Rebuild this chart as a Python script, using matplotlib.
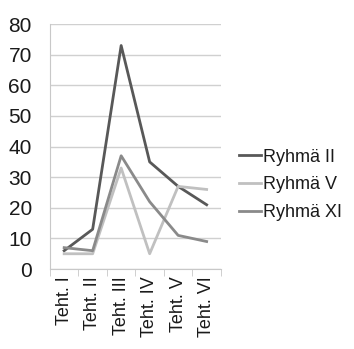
import matplotlib.pyplot as plt
import numpy as np

plt.rcParams["font.family"] = ["Liberation Sans", "DejaVu Sans"]

tasks = ["Teht. I", "Teht. II", "Teht. III", "Teht. IV", "Teht. V", "Teht. VI"]
ryhma_ii = [6, 13, 73, 35, 27, 21]
ryhma_v = [5, 5, 33, 5, 27, 26]
ryhma_xi = [7, 6, 37, 22, 11, 9]

fig = plt.figure(figsize=(3.54, 3.49), dpi=100)
ax = fig.add_axes([0.141, 0.229, 0.483, 0.702])

x = np.arange(len(tasks))
ax.plot(x, ryhma_ii, color="#585858", lw=2, label="Ryhmä II")
ax.plot(x, ryhma_v, color="#c0c0c0", lw=2, label="Ryhmä V")
ax.plot(x, ryhma_xi, color="#8a8a8a", lw=2, label="Ryhmä XI")

ax.set_xlim(-0.5, len(tasks) - 0.5)
ax.set_ylim(0, 80)
ax.set_yticks(range(0, 81, 10))
ax.set_xticks(x)
ax.set_xticklabels(tasks, rotation=90, fontsize=13, color="#1a1a1a")
ax.set_xticks(np.arange(-0.5, len(tasks), 1), minor=True)
ax.tick_params(axis="x", which="major", length=0, pad=5)
ax.tick_params(axis="x", which="minor", length=5, color="#c8c8c8")
ax.tick_params(axis="y", length=0, labelsize=15, labelcolor="#1a1a1a", pad=13)

ax.grid(axis="y", color="#d0d0d0", lw=1)
ax.set_axisbelow(True)
for side in ["top", "right"]:
    ax.spines[side].set_visible(False)
for side in ["left", "bottom"]:
    ax.spines[side].set_color("#c8c8c8")

fig.legend(loc="center left", bbox_to_anchor=(0.675, 0.47), frameon=False,
           fontsize=13, handlelength=1.2, handletextpad=0.15, labelspacing=0.6,
           borderaxespad=0, borderpad=0, labelcolor="#1a1a1a")

fig.savefig("out.png", dpi=100)
